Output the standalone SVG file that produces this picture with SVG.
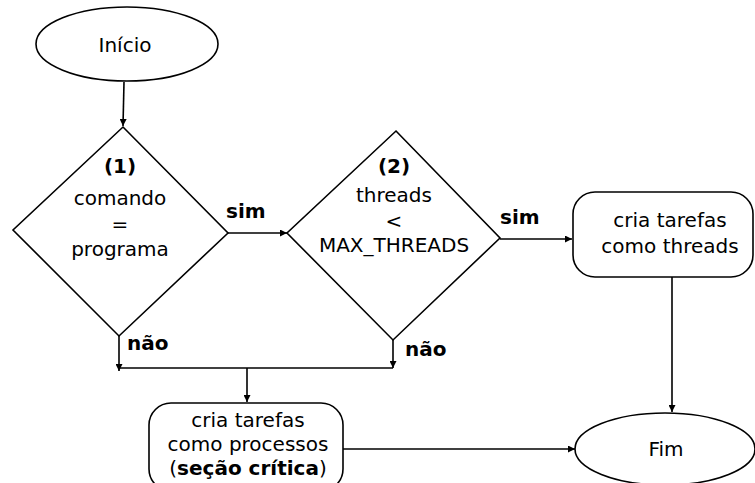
<svg xmlns="http://www.w3.org/2000/svg" width="755" height="483" viewBox="0 0 755 483">
  <style>
    .shape { fill: #ffffff; stroke: #000000; stroke-width: 1.6; }
    .line { fill: none; stroke: #000000; stroke-width: 1.6; }
    text { font-family: "DejaVu Sans", "Liberation Sans", sans-serif; font-size: 20px; fill: #000000; text-anchor: middle; }
    .b { font-weight: bold; }
    .lbl { font-weight: bold; text-anchor: start; }
  </style>
  <defs>
    <marker id="arrow" viewBox="0 0 10 10" refX="10" refY="5" markerWidth="9" markerHeight="7" markerUnits="userSpaceOnUse" orient="auto">
      <path d="M0,0 L10,5 L0,10 Z" fill="#000000"/>
    </marker>
  </defs>

  <rect width="755" height="483" fill="#ffffff"/>

  <g id="connectors">
    <path class="line" d="M124,82 L123,126" marker-end="url(#arrow)"/>
    <path class="line" d="M228,233 L287,233" marker-end="url(#arrow)"/>
    <path class="line" d="M500,239 L572,239" marker-end="url(#arrow)"/>
    <path class="line" d="M672,277 L672,412" marker-end="url(#arrow)"/>
    <path class="line" d="M119,336 L119,371" marker-end="url(#arrow)"/>
    <path class="line" d="M393,340 L393,368" marker-end="url(#arrow)"/>
    <path class="line" d="M119,368 L393,368"/>
    <path class="line" d="M247,368 L247,402" marker-end="url(#arrow)"/>
    <path class="line" d="M343,449 L575,449" marker-end="url(#arrow)"/>
    <text class="lbl" x="226" y="218">sim</text>
    <text class="lbl" x="500" y="224">sim</text>
    <text class="lbl" x="127" y="350">não</text>
    <text class="lbl" x="405" y="356">não</text>
  </g>

  <g id="inicio">
    <ellipse class="shape" cx="127" cy="44" rx="91" ry="37"/>
    <text x="125" y="52">Início</text>
  </g>

  <g id="decisao-comando">
    <polygon class="shape" points="123,127 228,233 119,336 13,230"/>
    <text class="b" x="120" y="173">(1)</text>
    <text x="120" y="205">comando</text>
    <text x="120" y="231">=</text>
    <text x="120" y="256">programa</text>
  </g>

  <g id="decisao-threads">
    <polygon class="shape" points="396,131 500,238 393,340 287,233"/>
    <text class="b" x="394" y="173">(2)</text>
    <text x="394" y="202">threads</text>
    <text x="394" y="228">&lt;</text>
    <text x="394" y="252">MAX_THREADS</text>
  </g>

  <g id="tarefas-threads">
    <rect class="shape" x="573" y="192" width="180" height="85" rx="22" ry="22"/>
    <text x="670" y="227">cria tarefas</text>
    <text x="670" y="253">como threads</text>
  </g>

  <g id="tarefas-processos">
    <rect class="shape" x="149" y="403" width="194" height="88" rx="22" ry="22"/>
    <text x="248" y="427">cria tarefas</text>
    <text x="248" y="451">como processos</text>
    <text x="248" y="475">(<tspan class="b">seção crítica</tspan>)</text>
  </g>

  <g id="fim">
    <ellipse class="shape" cx="665" cy="449" rx="90" ry="36"/>
    <text x="666" y="456">Fim</text>
  </g>
</svg>
